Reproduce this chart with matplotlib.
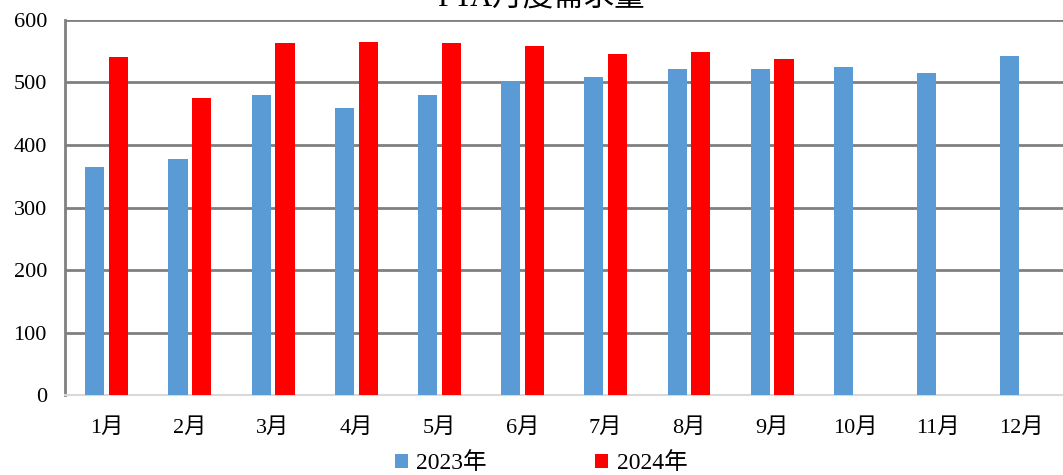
import numpy as np
import matplotlib.pyplot as plt

plt.rcParams['font.family'] = ['Liberation Serif', 'Noto Sans CJK SC']

months = ['1月', '2月', '3月', '4月', '5月', '6月',
          '7月', '8月', '9月', '10月', '11月', '12月']
demand_2023 = [365, 378, 480, 460, 480, 500, 509, 521, 521, 524, 515, 542]
demand_2024 = [540, 475, 563, 565, 563, 559, 545, 548, 537]

fig = plt.figure(figsize=(10.63, 4.75), dpi=100)
ax = fig.add_axes([0.0611, 0.1684, 0.9389, 0.7895])

x = np.arange(len(months))
w = 0.23
ax.bar(x - 0.14, demand_2023, w, color='#5B9BD5', label='2023年', zorder=3)
ax.bar(x[:len(demand_2024)] + 0.145, demand_2024, w, color='#FF0000',
       label='2024年', zorder=3)

ax.set_xlim(-0.5, len(months) - 0.5)
ax.set_ylim(0, 600)
ax.set_yticks(range(0, 601, 100))
ax.set_xticks(x)
ax.set_xticklabels(months)
ax.tick_params(axis='both', length=0, labelsize=16, colors='black')
ax.tick_params(axis='y', pad=13)
ax.tick_params(axis='x', pad=17)

ax.grid(axis='y', color='#808080', linewidth=2, zorder=0)
ax.set_axisbelow(True)
for side in ['top', 'right']:
    ax.spines[side].set_visible(False)
ax.spines['left'].set_color('#808080')
ax.spines['left'].set_linewidth(2)
ax.spines['bottom'].set_color('#D9D9D9')
ax.spines['bottom'].set_linewidth(1.5)

fig.text(0.509, 1.0 + 2 / 475, 'PTA月度需求量', ha='center', va='center',
         fontsize=22)

fig.legend(loc='center', bbox_to_anchor=(0.509, 0.025), ncol=2, frameon=False,
           fontsize=17, handlelength=0.55, handleheight=0.55, handletextpad=0.35,
           columnspacing=4.6)

fig.savefig('out.png', dpi=100)
